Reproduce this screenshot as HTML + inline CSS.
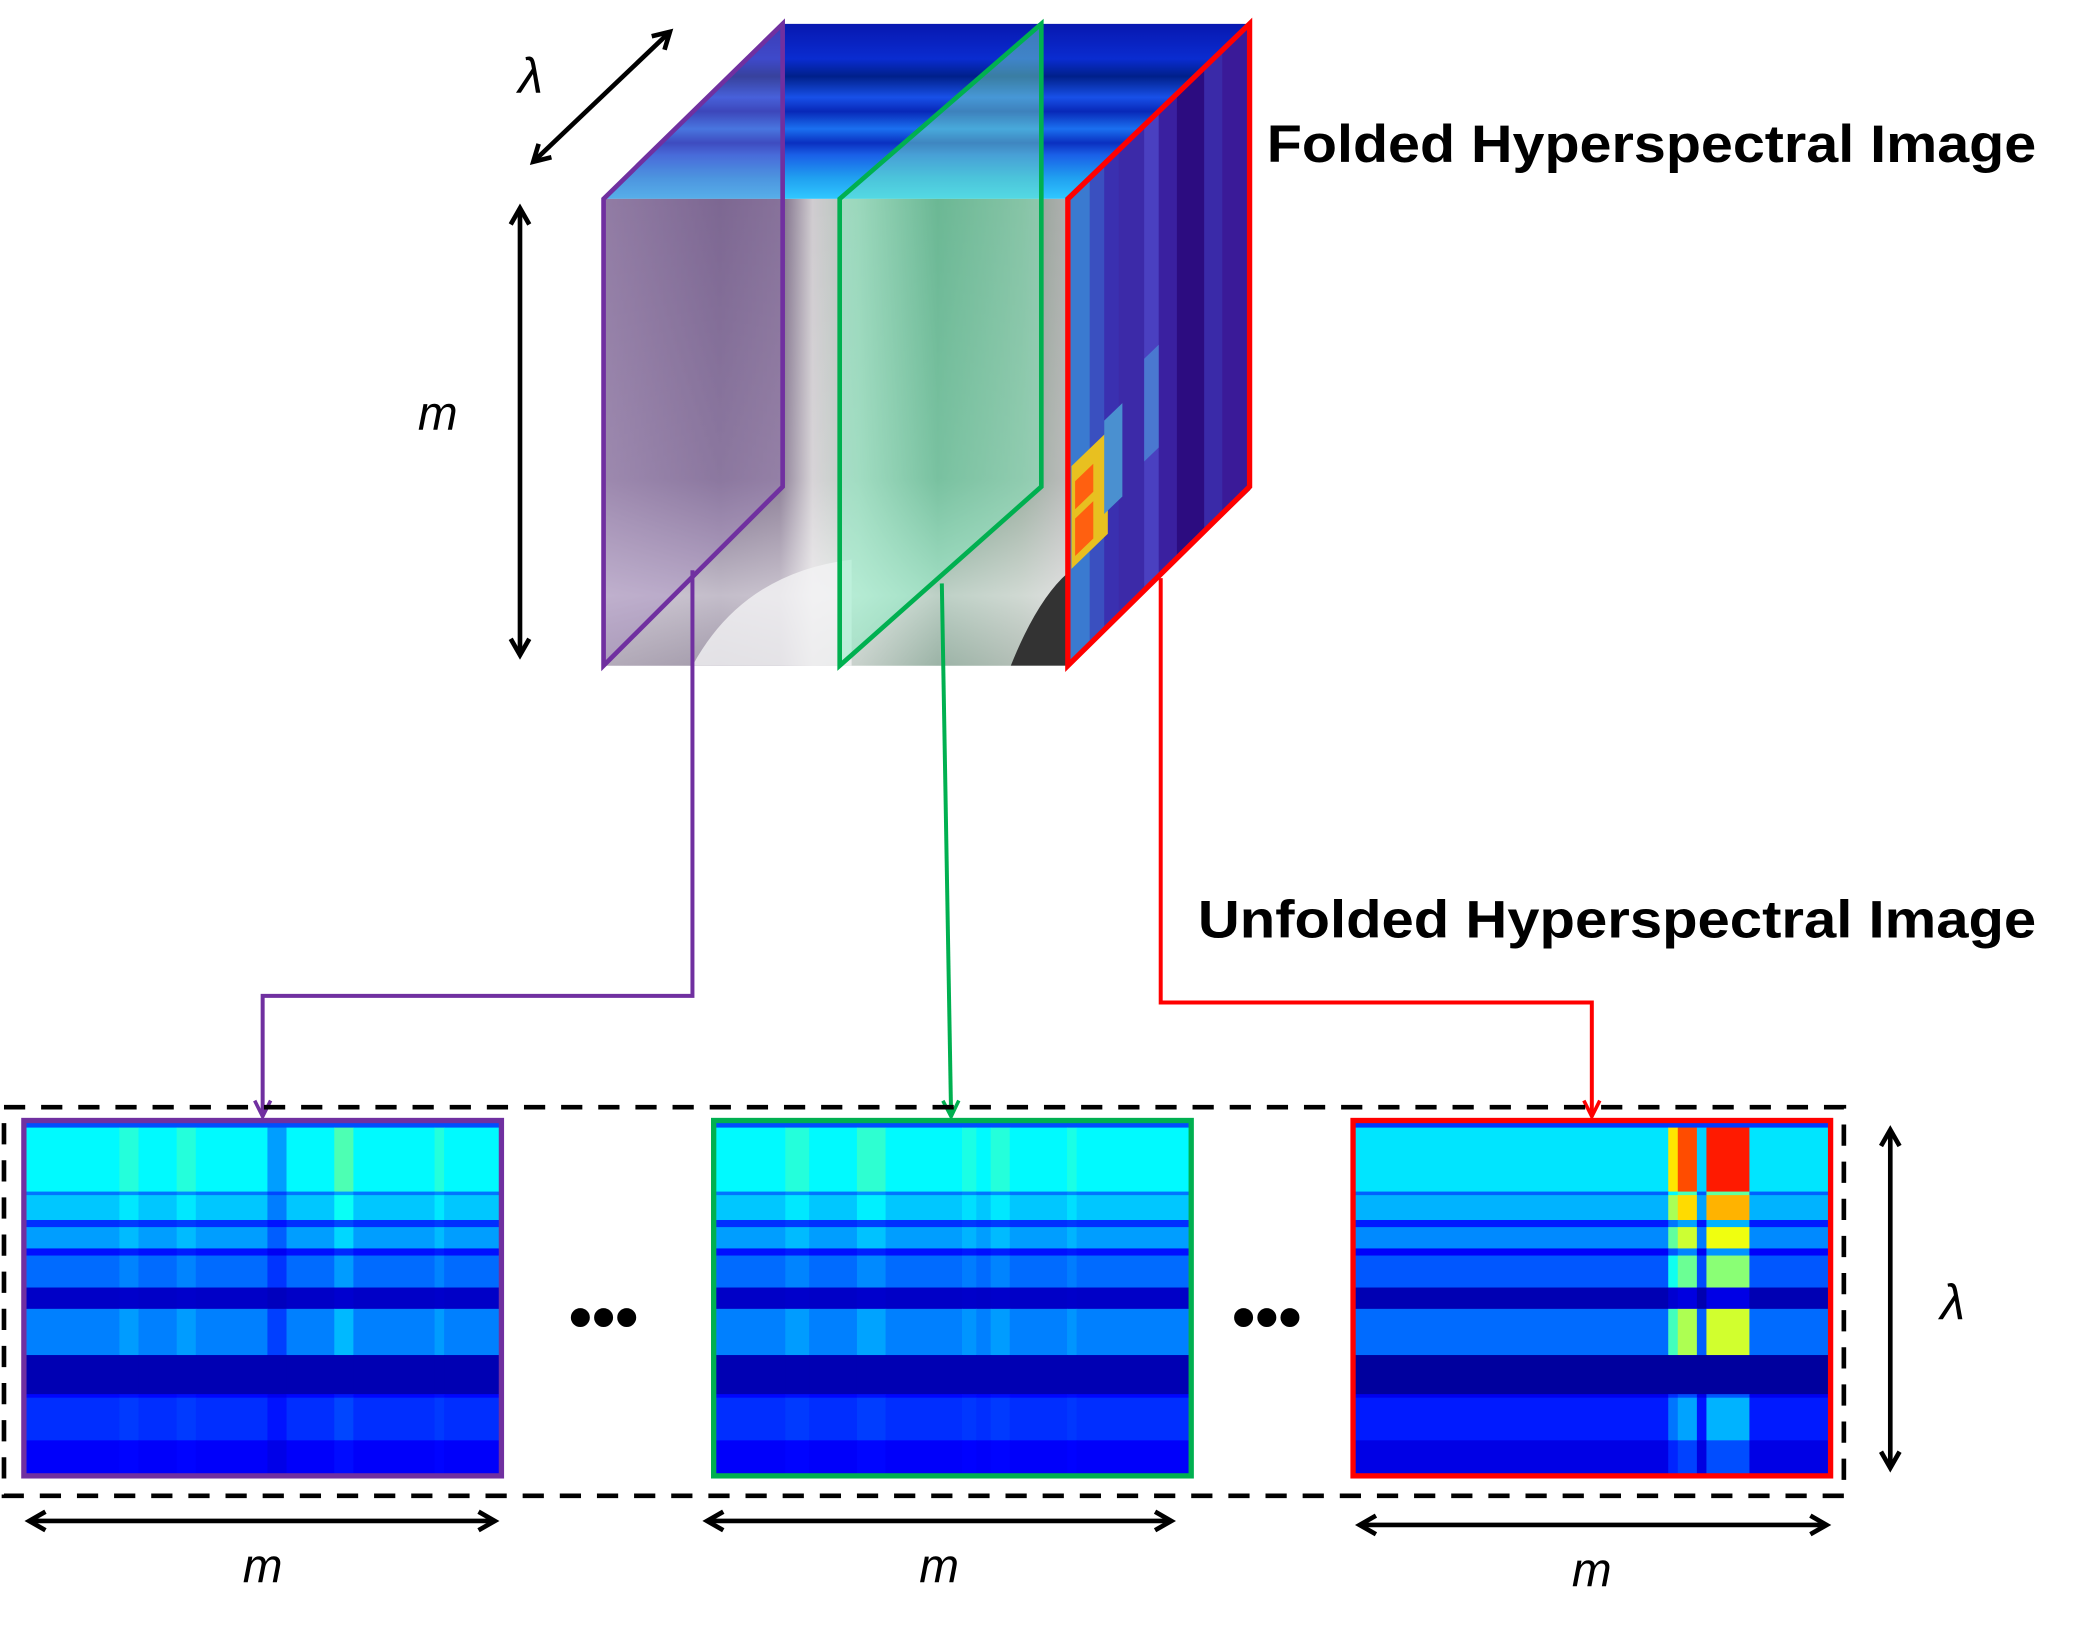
<!DOCTYPE html>
<html><head><meta charset="utf-8"><style>
html,body{margin:0;padding:0;background:#fff}
svg{display:block}
text{font-family:"Liberation Sans",sans-serif}
</style></head><body>
<svg id="fig" width="2076" height="1635" viewBox="0 0 1565 1233" preserveAspectRatio="none" xmlns="http://www.w3.org/2000/svg">
<defs>
<marker id="ah" viewBox="0 0 10 10" refX="8" refY="5" markerWidth="5" markerHeight="5" orient="auto-start-reverse"><path d="M1,1 L8,5 L1,9" fill="none" stroke="#000" stroke-width="2"/></marker>
<marker id="apu" viewBox="0 0 10 10" refX="9" refY="5" markerWidth="5" markerHeight="5" orient="auto"><path d="M1,1 L9,5 L1,9" fill="none" stroke="#7030a0" stroke-width="1.8"/></marker>
<marker id="agr" viewBox="0 0 10 10" refX="9" refY="5" markerWidth="5" markerHeight="5" orient="auto"><path d="M1,1 L9,5 L1,9" fill="none" stroke="#00b050" stroke-width="1.8"/></marker>
<marker id="are" viewBox="0 0 10 10" refX="9" refY="5" markerWidth="5" markerHeight="5" orient="auto"><path d="M1,1 L9,5 L1,9" fill="none" stroke="#ff0000" stroke-width="1.8"/></marker>
<linearGradient id="topg" x1="0" y1="1" x2="0" y2="0">
<stop offset="0" stop-color="#30c8ff"/><stop offset="0.12" stop-color="#20a0f0"/><stop offset="0.25" stop-color="#1a60e8"/><stop offset="0.32" stop-color="#0a30c0"/><stop offset="0.4" stop-color="#1a70f0"/><stop offset="0.5" stop-color="#0828b8"/><stop offset="0.58" stop-color="#1850e8"/><stop offset="0.7" stop-color="#00208a"/><stop offset="0.8" stop-color="#0a2cd0"/><stop offset="1" stop-color="#0818b0"/>
</linearGradient>
<linearGradient id="frontg" x1="0" y1="0" x2="1" y2="0">
<stop offset="0" stop-color="#8a7a96"/><stop offset="0.25" stop-color="#6a5a7a"/><stop offset="0.38" stop-color="#7a6a86"/><stop offset="0.45" stop-color="#d0ccd0"/><stop offset="0.55" stop-color="#b0c4b8"/><stop offset="0.72" stop-color="#5a8a70"/><stop offset="0.9" stop-color="#8aa090"/><stop offset="1" stop-color="#b0b0b0"/>
</linearGradient>
<linearGradient id="frontv" x1="0" y1="0" x2="0" y2="1">
<stop offset="0" stop-color="#fff" stop-opacity="0"/><stop offset="0.6" stop-color="#fff" stop-opacity="0.15"/><stop offset="0.85" stop-color="#fff" stop-opacity="0.6"/><stop offset="1" stop-color="#ddd" stop-opacity="0.5"/>
</linearGradient>
</defs>

<g>
<polygon points="455,150 805,150 942,18 590,18" fill="url(#topg)"/>
<rect x="455" y="150" width="350" height="352" fill="url(#frontg)"/>
<rect x="455" y="150" width="350" height="352" fill="url(#frontv)"/>
<path d="M522,502 Q560,432 642,422 L642,502 Z" fill="#f2f2f4" opacity="0.8"/>
<path d="M762,502 Q782,452 805,432 L805,502 Z" fill="#333"/>
<polygon points="455,150 590,18 590,367 455,502" fill="#a080c0" opacity="0.35"/>
<polygon points="633,150 785,18 785,367 633,502" fill="#80f0c0" opacity="0.45"/>
<g id="rightface" transform="matrix(137,-132,0,352,805,150)"></g>
<polygon points="455,150 590,18 590,367 455,502" fill="none" stroke="#7030a0" stroke-width="3.5"/>
<polygon points="633,150 785,18 785,367 633,502" fill="none" stroke="#00b050" stroke-width="3.5"/>
<polygon points="805,150 942,18 942,367 805,502" fill="none" stroke="#ff0000" stroke-width="4"/>
</g>

<line x1="402" y1="122" x2="505" y2="24" stroke="#000" stroke-width="3.5" marker-start="url(#ah)" marker-end="url(#ah)"/>
<text x="400" y="70" font-size="38" font-style="italic" font-family="Liberation Serif,serif" text-anchor="middle">λ</text>
<line x1="392" y1="157" x2="392" y2="494" stroke="#000" stroke-width="3.5" marker-start="url(#ah)" marker-end="url(#ah)"/>
<text x="330" y="324" font-size="36" font-style="italic" text-anchor="middle">m</text>
<text x="1535" y="122" font-size="40" font-weight="bold" text-anchor="end" textLength="580" lengthAdjust="spacingAndGlyphs">Folded Hyperspectral Image</text>
<text x="1535" y="707" font-size="40" font-weight="bold" text-anchor="end" textLength="632" lengthAdjust="spacingAndGlyphs">Unfolded Hyperspectral Image</text>

<polyline points="522,430 522,751 198,751 198,842" fill="none" stroke="#7030a0" stroke-width="3" marker-end="url(#apu)"/>
<polyline points="710,440 717,842" fill="none" stroke="#00b050" stroke-width="3" marker-end="url(#agr)"/>
<polyline points="875,436 875,756 1200,756 1200,842" fill="none" stroke="#ff0000" stroke-width="3" marker-end="url(#are)"/>

<g id="panels"></g>

<rect x="3" y="835" width="1387" height="293" fill="none" stroke="#000" stroke-width="3.5" stroke-dasharray="16,12"/>
<text x="455" y="1010" font-size="50" font-weight="bold" text-anchor="middle">•••</text>
<text x="955" y="1010" font-size="50" font-weight="bold" text-anchor="middle">•••</text>

<line x1="22" y1="1147" x2="373" y2="1147" stroke="#000" stroke-width="3.5" marker-start="url(#ah)" marker-end="url(#ah)"/>
<line x1="533" y1="1147" x2="883" y2="1147" stroke="#000" stroke-width="3.5" marker-start="url(#ah)" marker-end="url(#ah)"/>
<line x1="1025" y1="1150" x2="1377" y2="1150" stroke="#000" stroke-width="3.5" marker-start="url(#ah)" marker-end="url(#ah)"/>
<text x="198" y="1193" font-size="36" font-style="italic" text-anchor="middle">m</text>
<text x="708" y="1193" font-size="36" font-style="italic" text-anchor="middle">m</text>
<text x="1200" y="1196" font-size="36" font-style="italic" text-anchor="middle">m</text>
<line x1="1425" y1="852" x2="1425" y2="1107" stroke="#000" stroke-width="3.5" marker-start="url(#ah)" marker-end="url(#ah)"/>
<text x="1472" y="995" font-size="38" font-style="italic" font-family="Liberation Serif,serif" text-anchor="middle">λ</text>
</svg>
<script>
const bandStarts = [0,0.02,0.2,0.21,0.28,0.3,0.36,0.38,0.47,0.53,0.66,0.77,0.78,0.9];
const bandEnds   = [0.02,0.2,0.21,0.28,0.3,0.36,0.38,0.47,0.53,0.66,0.77,0.78,0.9,1];
const bandValues = [0.2,0.37,0.24,0.32,0.17,0.28,0.14,0.23,0.07,0.25,0.05,0.13,0.17,0.12];
const bandWeights= [0,1,0.5,0.8,0.3,0.7,0.3,0.6,0.1,0.7,0,0.2,0.3,0.2];
const purpleCols = [[0.51,0.55,-0.09],[0.2,0.24,0.04],[0.32,0.36,0.04],[0.65,0.69,0.08],[0.86,0.88,0.04]];
const greenCols  = [[0.15,0.2,0.04],[0.3,0.36,0.05],[0.52,0.55,0.03],[0.58,0.62,0.04],[0.74,0.76,0.03]];
const redCols    = [[0.66,0.68,0.3],[0.68,0.72,0.45],[0.72,0.74,-0.02],[0.74,0.83,0.5]];
const redBandShift = -0.02;
const panelX = [18,538,1020];
const panelColors = ['#7030a0','#00b050','#ff0000'];
const panelNames = ['purple','green','red'];
const PW=360, PY=845, PH=268;
function jet(v){v=Math.max(0,Math.min(1,v));const c=x=>Math.round(255*Math.max(0,Math.min(1,1.5-Math.abs(4*v-x))));return `rgb(${c(3)},${c(2)},${c(1)})`;}
const NS='http://www.w3.org/2000/svg';
const panels=document.getElementById('panels');
[purpleCols,greenCols,redCols].forEach((cols,pi)=>{
  const g=document.createElementNS(NS,'g');
  
  
  panels.appendChild(g);
  const x0=panelX[pi];
  let bps=[0,1];cols.forEach(c=>{bps.push(c[0],c[1]);});
  bps=[...new Set(bps)].sort((a,b)=>a-b);
  for(let b=0;b<bandStarts.length;b++){
    for(let k=0;k<bps.length-1;k++){
      const mid=(bps[k]+bps[k+1])/2;let d=0;
      cols.forEach(c=>{if(mid>=c[0]&&mid<c[1])d+=c[2];});
      let v=bandValues[b]+(pi===2?redBandShift:0)+d*bandWeights[b];
      const r=document.createElementNS(NS,'rect');
      
      
      r.setAttribute('x',x0+bps[k]*PW);r.setAttribute('width',(bps[k+1]-bps[k])*PW+0.5);
      r.setAttribute('y',PY+bandStarts[b]*PH);r.setAttribute('height',(bandEnds[b]-bandStarts[b])*PH+0.5);
      r.setAttribute('fill',jet(v));
      g.appendChild(r);
    }
  }
  const o=document.createElementNS(NS,'rect');
  
  
  o.setAttribute('x',x0);o.setAttribute('y',PY);o.setAttribute('width',PW);o.setAttribute('height',PH);
  o.setAttribute('fill','none');o.setAttribute('stroke',panelColors[pi]);o.setAttribute('stroke-width','4');
  g.appendChild(o);
});
const rfStarts=[0,0.12,0.2,0.28,0.42,0.5,0.6,0.75,0.85];
const rfEnds  =[0.12,0.2,0.28,0.42,0.5,0.6,0.75,0.85,1];
const rfColors=['#3a7ad0','#3a50c0','#3a30b0','#3c2aa8','#4a40c0','#3a20a0','#2c0c80','#3a2aa8','#3a1a98'];
const rf=document.getElementById('rightface');
for(let i=0;i<rfStarts.length;i++){
  const r=document.createElementNS(NS,'rect');
  
  
  r.setAttribute('x',rfStarts[i]);r.setAttribute('width',rfEnds[i]-rfStarts[i]+0.005);
  r.setAttribute('y',0);r.setAttribute('height',1);r.setAttribute('fill',rfColors[i]);
  rf.appendChild(r);
}
const spots=[[0.02,0.22,0.58,0.8,'#e8c020'],[0.04,0.14,0.62,0.68,'#ff6010'],[0.04,0.14,0.7,0.78,'#ff6010'],[0.2,0.3,0.55,0.75,'#4a90d0'],[0.42,0.5,0.5,0.72,'#4a78d0']];
spots.forEach(s=>{const r=document.createElementNS(NS,'rect');
  
  
  r.setAttribute('x',s[0]);r.setAttribute('width',s[1]-s[0]);r.setAttribute('y',s[2]);r.setAttribute('height',s[3]-s[2]);r.setAttribute('fill',s[4]);rf.appendChild(r);});
</script>
</body></html>
